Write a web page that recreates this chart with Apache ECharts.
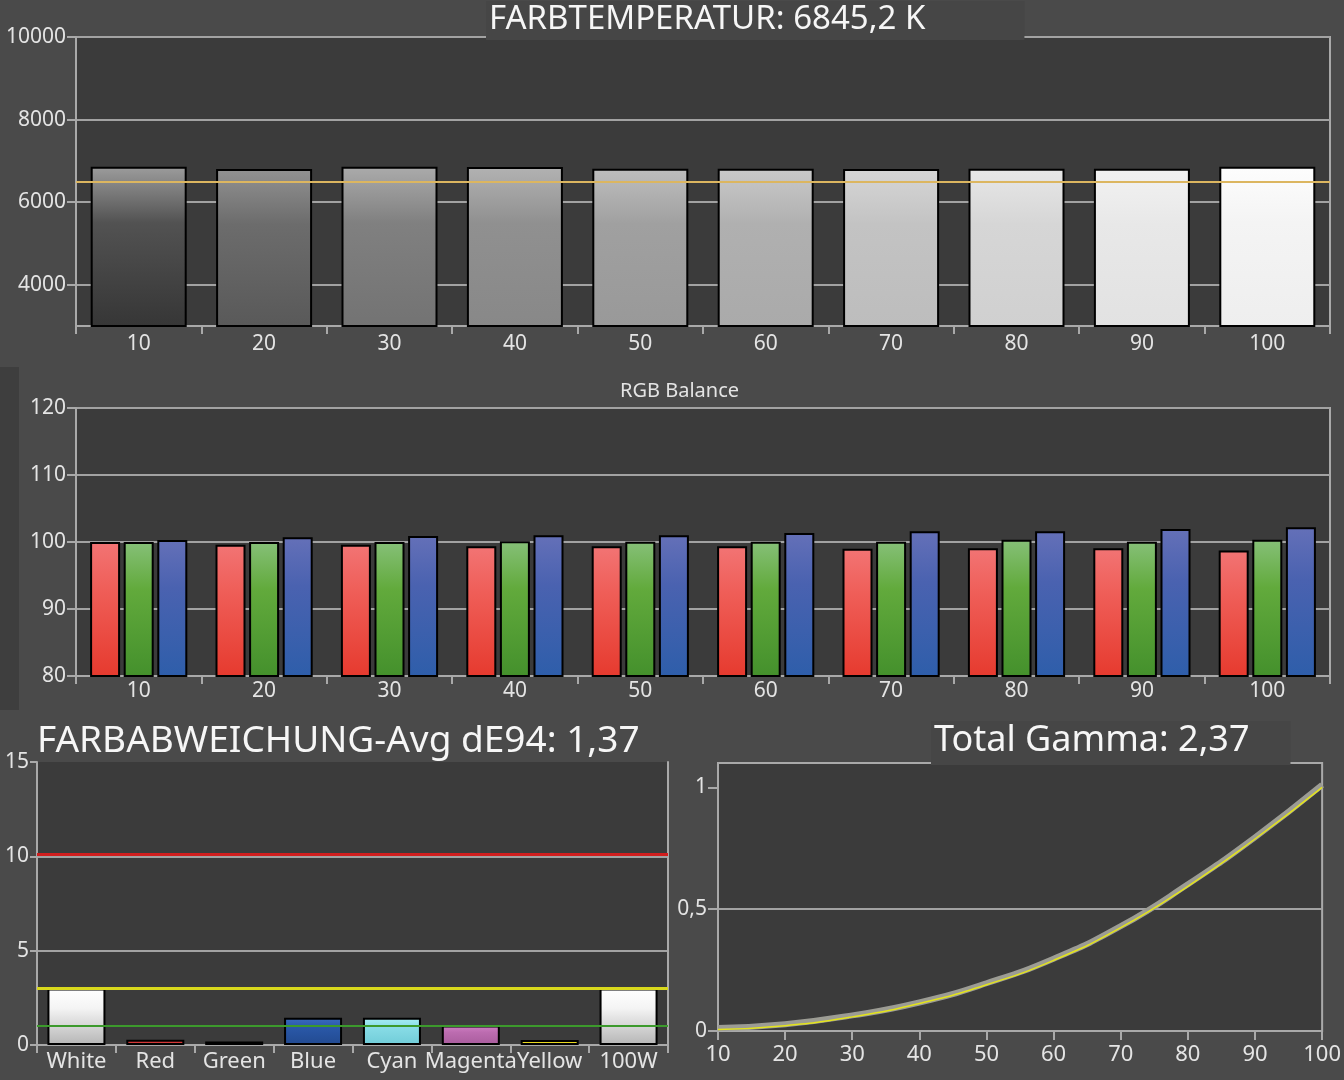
<!DOCTYPE html>
<html>
<head>
<meta charset="utf-8">
<title>Farbtemperatur / RGB Balance / dE94 / Gamma</title>
<script src="https://cdn.jsdelivr.net/npm/echarts@6/dist/echarts.min.js"></script>
<style>
    html, body { margin: 0; padding: 0; background: #4a4a4a; }
    #main { width: 1344px; height: 1080px; }
</style>
</head>
<body>
<div id="main"></div>
<script>
    // ---- data ----
    var steps = ["10", "20", "30", "40", "50", "60", "70", "80", "90", "100"];
    var colorTemp = [6860, 6800, 6860, 6850, 6810, 6810, 6800, 6810, 6810, 6860];
    var targetTemp = 6500;
    var tempTicks = [4000, 6000, 8000, 10000];

    var rgbRed = [100.0, 99.6, 99.6, 99.35, 99.35, 99.35, 99.0, 99.05, 99.05, 98.75];
    var rgbGreen = [100.0, 100.0, 100.0, 100.1, 100.05, 100.05, 100.05, 100.35, 100.05, 100.35];
    var rgbBlue = [100.3, 100.7, 100.9, 101.0, 101.0, 101.35, 101.6, 101.6, 101.95, 102.2];

    var deltaCategories = ["White", "Red", "Green", "Blue", "Cyan", "Magenta", "Yellow", "100W"];
    var deltaValues = [3.0, 0.28, 0.19, 1.44, 1.44, 1.03, 0.27, 3.0];
    var deltaRedLimit = 10.1;
    var deltaYellowLimit = 3;
    var deltaGreenLimit = 1;

    var gammaLevels = [10, 20, 30, 40, 50, 60, 70, 80, 90, 100];
    var gammaMeasured = [0.012, 0.028, 0.064, 0.117, 0.196, 0.297, 0.43, 0.602, 0.795, 1.01];
    var gammaTarget = [0.006, 0.022, 0.058, 0.113, 0.19, 0.29, 0.424, 0.594, 0.788, 1.0];
    var gammaTicks = [0, 0.5, 1];

    // ---- styles ----
    var FONT = "Noto Sans";
    var pageBg = "#4a4a4a";
    var plotBg = "#3b3b3b";
    var frame = "#a9a9a9";
    var labelColor = "#e4e4e4";

    // top / middle / bottom shade of every grey bar (10% ... 100%)
    var tempShades = [
        ["#9c9c9c", "#525252", "#363636"],
        ["#929292", "#6c6c6c", "#595959"],
        ["#ababab", "#808080", "#737373"],
        ["#b2b2b2", "#909090", "#888888"],
        ["#bebebe", "#a0a0a0", "#999999"],
        ["#c9c9c9", "#b0b0b0", "#aaaaaa"],
        ["#d6d6d6", "#c3c3c3", "#bdbdbd"],
        ["#e7e7e7", "#d6d6d6", "#d0d0d0"],
        ["#f2f2f2", "#e8e8e8", "#e2e2e2"],
        ["#fdfdfd", "#f4f4f4", "#eeeeee"]
    ];
    var deltaShades = [
        ["#ffffff", "#f4f4f4", "#b5b5b5"],
        ["#e85050", "#d83a3a", "#c83030"],
        ["#8aa050", "#748e3c", "#627a30"],
        ["#3a6cc0", "#2a58a8", "#224a90"],
        ["#a8eef4", "#88dce6", "#70ccd8"],
        ["#d080c4", "#bc6cb0", "#a85c9c"],
        ["#f8ec30", "#ecdc20", "#dccc18"],
        ["#ffffff", "#f4f4f4", "#b5b5b5"]
    ];

    function vGrad(c) {
        return new echarts.graphic.LinearGradient(0, 0, 0, 1, [
            {offset: 0, color: c[0]},
            {offset: 0.35, color: c[1]},
            {offset: 1, color: c[2]}
        ]);
    }

    function labelStyle(size, extra) {
        var s = {color: labelColor, fontFamily: FONT, fontSize: size};
        for (var k in extra) {
            s[k] = extra[k];
        }
        return s;
    }

    function plain(v) {
        return String(v).replace(".", ",");
    }

    var lineFrame = {show: true, lineStyle: {color: frame, width: 2}};
    var tickOut = {show: true, length: 9, lineStyle: {color: frame, width: 2}};
    var gridLine = {show: true, lineStyle: {color: "#a2a2a2", width: 2}};

    function categoryAxis(gridIndex, data, margin, size) {
        return {
            type: "category", gridIndex: gridIndex, data: data,
            axisLine: lineFrame,
            axisTick: {show: true, length: 8, alignWithLabel: false, lineStyle: {color: frame, width: 2}},
            axisLabel: labelStyle(size, {margin: margin, interval: 0}),
            splitLine: {show: false}
        };
    }

    var option = {
        backgroundColor: pageBg,
        animation: false,
        title: [
            {
                text: "FARBTEMPERATUR: 6845,2 K", left: 486, top: 1,
                padding: [2, 99, 4, 3], backgroundColor: "#464646",
                textStyle: {color: "#f6f6f6", fontFamily: FONT, fontSize: 33, fontWeight: "normal"}
            },
            {
                text: "RGB Balance", left: 620, top: 381, padding: 0,
                textStyle: {color: labelColor, fontFamily: FONT, fontSize: 20, fontWeight: "normal"}
            },
            {
                text: "FARBABWEICHUNG-Avg dE94: 1,37", left: 37, top: 723, padding: 0,
                textStyle: {color: "#f6f6f6", fontFamily: FONT, fontSize: 37, fontWeight: "normal"}
            },
            {
                text: "Total Gamma: 2,37", left: 931, top: 721,
                padding: [2, 41, 6, 3], backgroundColor: "#464646",
                textStyle: {color: "#f6f6f6", fontFamily: FONT, fontSize: 36, fontWeight: "normal"}
            }
        ],
        graphic: [
            {type: "rect", left: 0, top: 367, shape: {width: 19, height: 343}, style: {fill: "#3e3e3e"}, z: -1}
        ],
        grid: [
            {left: 76, right: 14, top: 37, height: 289, show: true, backgroundColor: plotBg, borderColor: frame, borderWidth: 2},
            {left: 76, right: 14, top: 408, height: 268, show: true, backgroundColor: plotBg, borderColor: frame, borderWidth: 2},
            {left: 37, top: 762, width: 631, height: 283, show: true, backgroundColor: plotBg, borderWidth: 0},
            {left: 718, right: 14, top: 763, height: 268, show: true, backgroundColor: plotBg, borderColor: frame, borderWidth: 2}
        ],
        xAxis: [
            categoryAxis(0, steps, 8, 21),
            categoryAxis(1, steps, 5, 21),
            categoryAxis(2, deltaCategories, 6, 22),
            {
                type: "value", gridIndex: 3, min: 10, max: 100, interval: 10,
                axisLine: lineFrame, axisTick: tickOut,
                axisLabel: labelStyle(22, {margin: 13, formatter: plain}),
                splitLine: {show: false}
            }
        ],
        yAxis: [
            {
                type: "value", gridIndex: 0, min: 3000, max: 10000, interval: 1000,
                axisLine: lineFrame,
                axisTick: {show: true, length: 9, customValues: tempTicks, lineStyle: {color: frame, width: 2}},
                axisLabel: labelStyle(21, {margin: 10, customValues: tempTicks, formatter: plain}),
                splitLine: gridLine
            },
            {
                type: "value", gridIndex: 1, min: 80, max: 120, interval: 10,
                axisLine: lineFrame, axisTick: tickOut,
                axisLabel: labelStyle(21, {margin: 10, formatter: plain}),
                splitLine: gridLine
            },
            {
                type: "value", gridIndex: 2, min: 0, max: 15, interval: 5,
                axisLine: lineFrame, axisTick: {show: true, length: 7, lineStyle: {color: frame, width: 2}},
                axisLabel: labelStyle(21, {margin: 8, formatter: plain}),
                splitLine: {show: true, showMaxLine: false, lineStyle: {color: "#a2a2a2", width: 2}}
            },
            {
                type: "value", gridIndex: 3, min: 0, max: 1.1, interval: 0.5,
                axisLine: lineFrame,
                axisTick: {show: true, length: 10, customValues: gammaTicks, lineStyle: {color: frame, width: 2}},
                axisLabel: labelStyle(21, {margin: 11, customValues: gammaTicks, formatter: plain}),
                splitLine: {show: true, showMaxLine: false, lineStyle: {color: "#a2a2a2", width: 2}}
            },
            // right edge of the dE panel
            {
                type: "value", gridIndex: 2, position: "right", min: 0, max: 15,
                axisLine: lineFrame, axisTick: {show: false}, axisLabel: {show: false}, splitLine: {show: false}
            }
        ],
        series: [
            {
                name: "Farbtemperatur", type: "bar", xAxisIndex: 0, yAxisIndex: 0,
                data: colorTemp, barWidth: 96,
                itemStyle: {
                    borderColor: "#000", borderWidth: 2,
                    color: function (p) { return vGrad(tempShades[p.dataIndex]); }
                },
                markLine: {
                    silent: true, symbol: "none", label: {show: false},
                    lineStyle: {color: "#dcb660", width: 2, type: "solid"},
                    data: [{yAxis: targetTemp}]
                }
            },
            {
                name: "R", type: "bar", xAxisIndex: 1, yAxisIndex: 1, data: rgbRed,
                barWidth: 30, barGap: "12%",
                itemStyle: {borderColor: "#000", borderWidth: 2, color: vGrad(["#f27474", "#ef5e58", "#e63a2e"])}
            },
            {
                name: "G", type: "bar", xAxisIndex: 1, yAxisIndex: 1, data: rgbGreen,
                barWidth: 30, barGap: "12%",
                itemStyle: {borderColor: "#000", borderWidth: 2, color: vGrad(["#86c078", "#62aa3c", "#44902c"])}
            },
            {
                name: "B", type: "bar", xAxisIndex: 1, yAxisIndex: 1, data: rgbBlue,
                barWidth: 30, barGap: "12%",
                itemStyle: {borderColor: "#000", borderWidth: 2, color: vGrad(["#6470b8", "#4a62b0", "#2e5eaa"])}
            },
            {
                name: "dE94", type: "bar", xAxisIndex: 2, yAxisIndex: 2, data: deltaValues,
                barWidth: 58,
                itemStyle: {
                    borderColor: "#000", borderWidth: 2,
                    color: function (p) { return vGrad(deltaShades[p.dataIndex]); }
                },
                markLine: {
                    silent: true, symbol: "none", label: {show: false},
                    data: [
                        {yAxis: deltaRedLimit, lineStyle: {color: "#d21e1e", width: 3, type: "solid"}},
                        {yAxis: deltaYellowLimit, lineStyle: {color: "#d8d81c", width: 3, type: "solid"}},
                        {yAxis: deltaGreenLimit, lineStyle: {color: "#3c9a2c", width: 2, type: "solid"}}
                    ]
                }
            },
            {
                name: "Gamma", type: "line", xAxisIndex: 3, yAxisIndex: 3, smooth: true, showSymbol: false,
                data: gammaLevels.map(function (x, i) { return [x, gammaMeasured[i]]; }),
                lineStyle: {color: "#9c9c94", width: 6}
            },
            {
                name: "Gamma Ziel", type: "line", xAxisIndex: 3, yAxisIndex: 3, smooth: true, showSymbol: false,
                data: gammaLevels.map(function (x, i) { return [x, gammaTarget[i]]; }),
                lineStyle: {color: "#e4e41c", width: 1.5}
            }
        ]
    };

    var chart = echarts.init(document.getElementById("main"));
    chart.setOption(option);
</script>
</body>
</html>
